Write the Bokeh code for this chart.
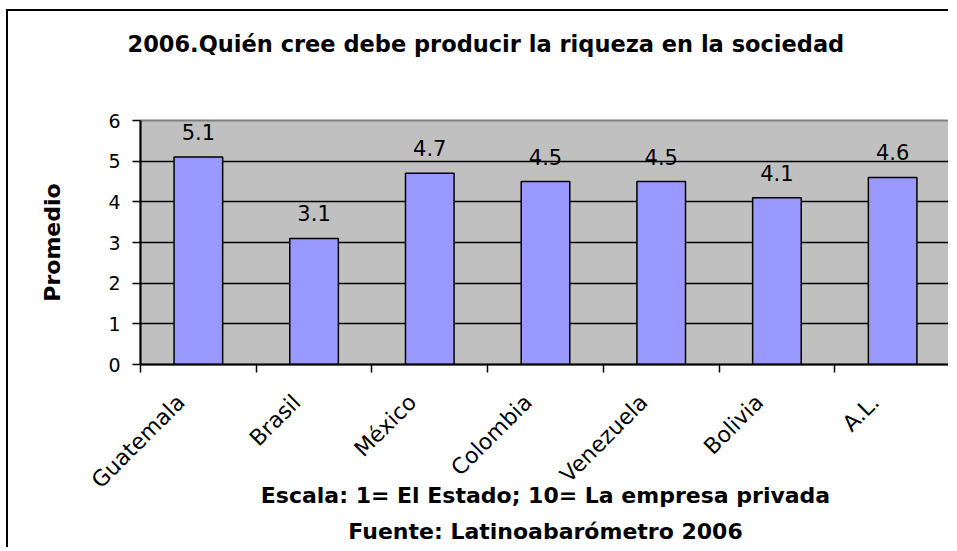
import math
from bokeh.plotting import figure
from bokeh.models import Range1d, FixedTicker, ColumnDataSource, Title
from bokeh.embed import file_html
from bokeh.resources import INLINE
from bokeh.core.properties import value

categories = ["Guatemala", "Brasil", "México", "Colombia", "Venezuela", "Bolivia", "A.L."]
promedio = [5.1, 3.1, 4.7, 4.5, 4.5, 4.1, 4.6]
value_labels = ["5.1", "3.1", "4.7", "4.5", "4.5", "4.1", "4.6"]
y_ticks = [0, 1, 2, 3, 4, 5, 6]

title_text = "2006.Quién cree debe producir la riqueza en la sociedad"
y_label = "Promedio"
note_text = "Escala: 1= El Estado; 10= La empresa privada"
source_text = "Fuente: Latinoabarómetro 2006"

n = len(categories)
x_pos = [i + 0.5 for i in range(n)]
label_shift = 0.15  # rotated labels end slightly left of the category centre
label_pos = [x - label_shift for x in x_pos]
src = ColumnDataSource(dict(x=x_pos, top=promedio, label=value_labels))

p = figure(width=942, height=538, output_backend="svg", toolbar_location=None,
           x_range=Range1d(0, n), y_range=Range1d(0, 6),
           min_border_left=132, min_border_right=0, min_border_top=0,
           min_border_bottom=184,
           background_fill_color="#C0C0C0", border_fill_color="white")
p.styles = {"border-top": "2px solid black", "border-left": "2px solid black",
            "margin-left": "6px", "margin-top": "9px"}

p.vbar(x="x", top="top", width=0.42, bottom=0, source=src,
       fill_color="#9999FF", line_color="black", line_width=1.5)
p.text(x="x", y="top", text="label", source=src, text_align="center",
       text_baseline="alphabetic", y_offset=-25, text_font=value("DejaVu Sans"),
       text_font_size="21px", text_color="black")

p.outline_line_color = "#808080"
p.outline_line_width = 2

p.xgrid.visible = False
p.ygrid.ticker = FixedTicker(ticks=y_ticks[:-1])
p.ygrid.grid_line_color = "black"
p.ygrid.grid_line_width = 1.5

xa = p.xaxis[0]
xa.ticker = FixedTicker(ticks=label_pos, minor_ticks=list(range(n + 1)))
xa.major_label_overrides = {x: c for x, c in zip(label_pos, categories)}
xa.major_tick_out = 0
xa.major_tick_in = 0
xa.minor_tick_out = 8
xa.minor_tick_in = 0
xa.minor_tick_line_color = "black"
xa.minor_tick_line_width = 1.5
xa.axis_line_color = "black"
xa.axis_line_width = 2
xa.major_label_orientation = math.pi / 4
xa.major_label_text_font = "DejaVu Sans"
xa.major_label_text_font_size = "22px"
xa.major_label_text_color = "black"
xa.major_label_standoff = 26
xa.axis_label = note_text
xa.axis_label_text_font = "DejaVu Sans"
xa.axis_label_text_font_style = "bold"
xa.axis_label_text_font_size = "22px"
xa.axis_label_text_color = "black"
xa.axis_label_standoff = -22

ya = p.yaxis[0]
ya.ticker = FixedTicker(ticks=y_ticks, minor_ticks=[])
ya.major_tick_out = 8
ya.major_tick_in = 0
ya.major_tick_line_color = "black"
ya.major_tick_line_width = 1.5
ya.minor_tick_line_color = None
ya.axis_line_color = "black"
ya.axis_line_width = 2
ya.major_label_text_font = "DejaVu Sans"
ya.major_label_text_font_size = "19px"
ya.major_label_text_color = "black"
ya.major_label_standoff = 12
ya.axis_label = y_label
ya.axis_label_text_font = "DejaVu Sans"
ya.axis_label_text_font_style = "bold"
ya.axis_label_text_font_size = "22px"
ya.axis_label_text_color = "black"
ya.axis_label_standoff = 40

bold = dict(text_font="DejaVu Sans", text_font_style="bold", text_color="black")

spacer = Title(text=" ", text_font_size="1px", standoff=44)
main_title = Title(text=title_text, align="left", offset=-13, standoff=34,
                   text_font_size="22.5px", **bold)
p.add_layout(spacer, "above")
p.add_layout(main_title, "above")

source_title = Title(text=source_text, align="center", standoff=12,
                     text_font_size="22px", **bold)
p.add_layout(source_title, "below")

open("out.html", "w").write(file_html(p, INLINE))
